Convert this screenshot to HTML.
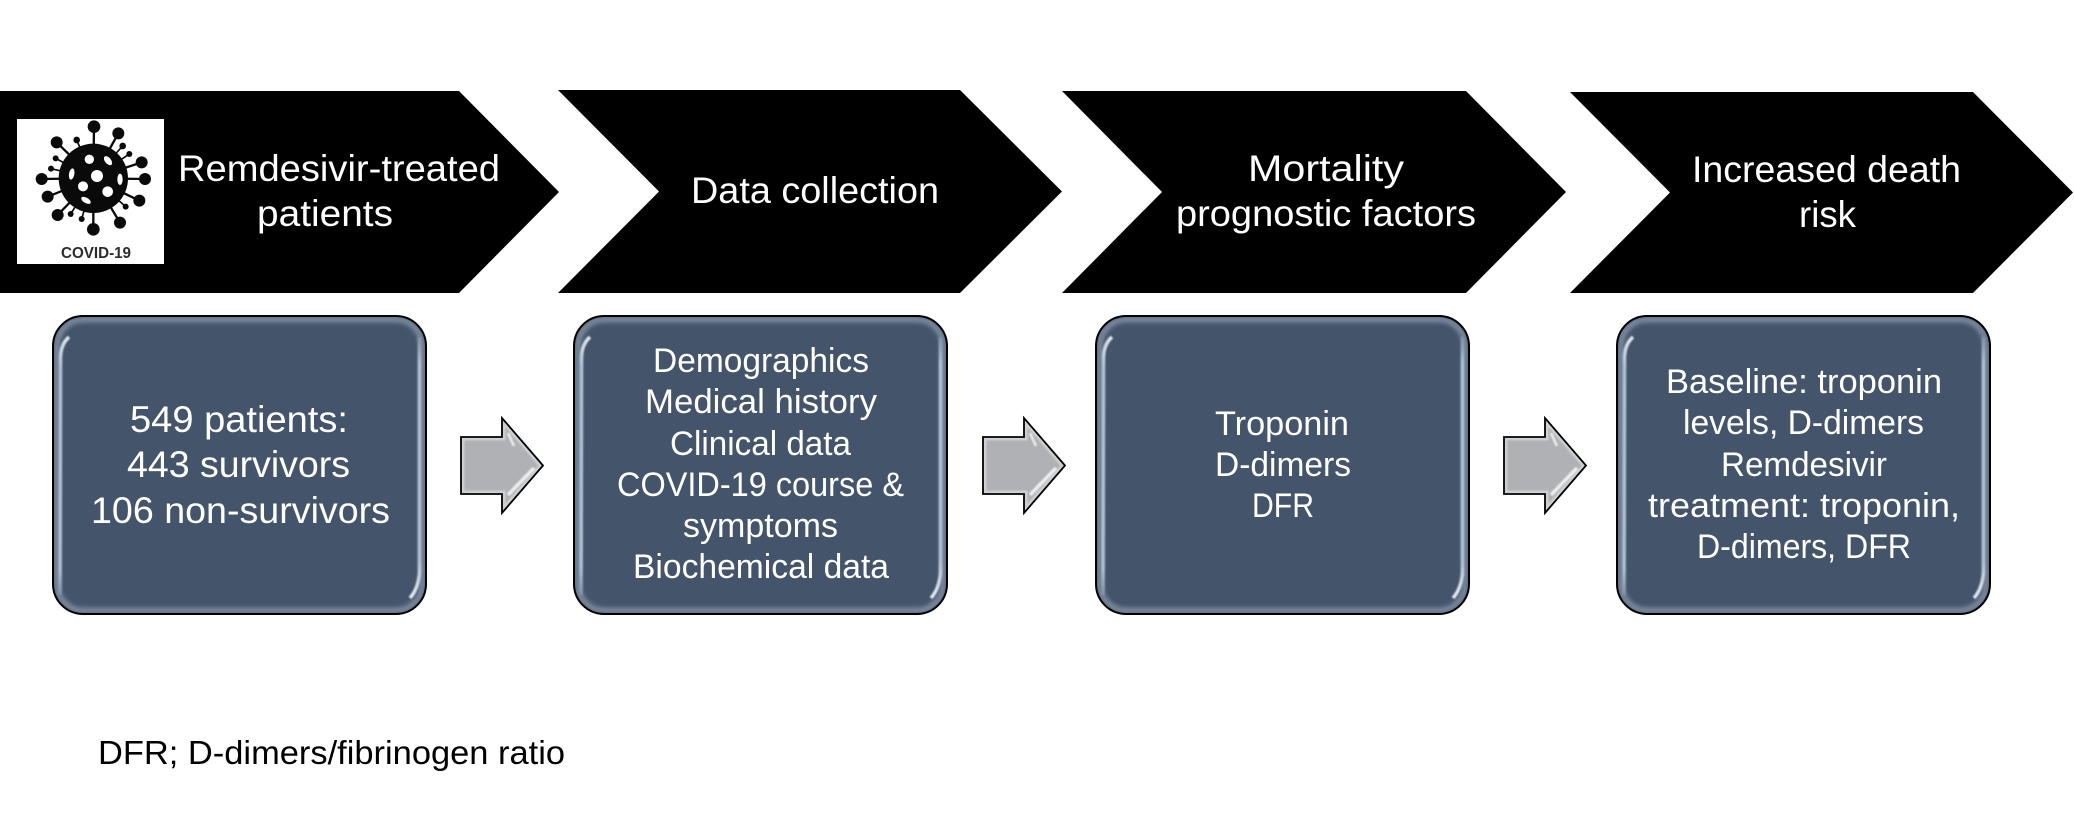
<!DOCTYPE html>
<html lang="en">
<head>
<meta charset="utf-8">
<title>Remdesivir-treated patients flow diagram</title>
<style>
html,body{margin:0;padding:0;background:#fff;width:2074px;height:819px;overflow:hidden}
svg{display:block}
text{font-family:"Liberation Sans",sans-serif}
.w{fill:#fff}
.c{font-size:37px}
.b{font-size:34px}
.b1{font-size:37px}
</style>
</head>
<body>
<svg xmlns="http://www.w3.org/2000/svg" width="2074" height="819" viewBox="0 0 2074 819">
<defs>
<linearGradient id="lg" x1="0" y1="0" x2="0" y2="1">
<stop offset="0" stop-color="#dfe6ef"/><stop offset="0.12" stop-color="#aebfd3"/><stop offset="0.9" stop-color="#aebfd3"/><stop offset="1" stop-color="#7f90a6"/>
</linearGradient>
<linearGradient id="rg" x1="0" y1="0" x2="0" y2="1">
<stop offset="0" stop-color="#7f90a6"/><stop offset="0.1" stop-color="#aebfd3"/><stop offset="0.86" stop-color="#aebfd3"/><stop offset="1" stop-color="#e6ebf2"/>
</linearGradient>
<filter id="bl" x="-10%" y="-10%" width="120%" height="120%"><feGaussianBlur stdDeviation="2"/></filter>
<filter id="bs" x="-30%" y="-10%" width="160%" height="120%"><feGaussianBlur stdDeviation="0.8"/></filter>
<clipPath id="cb"><rect x="1" y="1" width="373" height="298" rx="30" ry="30"/></clipPath>
<clipPath id="ca"><polygon points="0,19 41,19 41,0 82,47.500 41,95 41,76 0,76"/></clipPath>
<g id="box">
<rect x="1" y="1" width="373" height="298" rx="30" ry="30" fill="#44546A"/>
<g clip-path="url(#cb)">
<rect x="5" y="4.500" width="365" height="291" rx="26" ry="26" fill="none" stroke="#7a899d" stroke-width="6" filter="url(#bl)"/>
<path d="M17 22Q9 29 8.500 42L8 280" stroke="url(#lg)" stroke-width="3.500" fill="none" filter="url(#bs)"/>
<path d="M367.500 22L367.500 258Q366 274 358 283" stroke="url(#rg)" stroke-width="3.500" fill="none" filter="url(#bs)"/>
</g>
<rect x="1" y="1" width="373" height="298" rx="30" ry="30" fill="none" stroke="#000" stroke-width="2"/>
</g>
<g id="arrow">
<polygon points="0,19 41,19 41,0 82,47.500 41,95 41,76 0,76" fill="#b0b1b4"/>
<g clip-path="url(#ca)">
<polygon points="0,19 41,19 41,0 82,47.500 41,95 41,76 0,76" fill="none" stroke="#cfd0d2" stroke-width="7" filter="url(#bs)"/>
<path d="M8 29V66" stroke="#fff" stroke-width="3" fill="none" filter="url(#bs)"/>
<path d="M73 50L47 77" stroke="#eeeeef" stroke-width="3.500" fill="none" filter="url(#bs)"/>
<path d="M47 15L53 28" stroke="#eeeeef" stroke-width="2.500" fill="none" filter="url(#bs)"/>
</g>
<polygon points="0,19 41,19 41,0 82,47.500 41,95 41,76 0,76" fill="none" stroke="#000" stroke-width="1.800"/>
</g>
</defs>

<!-- Chevrons -->
<polygon points="0,91 459,91 559,192 459,293 0,293" fill="#000"/>
<polygon points="558,90 960,90 1062,191.500 960,293 558,293 659,191.500" fill="#000"/>
<polygon points="1062,91 1466,91 1566,192 1466,293 1062,293 1162,192" fill="#000"/>
<polygon points="1570,92 1973,92 2073,192.500 1973,293 1570,293 1670,192.500" fill="#000"/>

<!-- COVID image -->
<rect x="17" y="119" width="147" height="145" fill="#fff"/>
<g transform="translate(10,110) scale(0.33333)" fill="#0a0a0a" stroke="none">
<g stroke="#0a0a0a" stroke-width="7" fill="none">
<path d="M250 205L252 50M250 205L325 70M250 205L395 157M250 205L405 207M250 205L388 272M250 205L330 338M250 205L250 358M250 205L143 315M250 205L113 260M250 205L95 207M250 205L140 97"/>
<path d="M250 205L200 90M250 205L338 108M250 205L358 132M250 205L347 290M250 205L215 327M250 205L182 312M250 205L123 176M250 205L137 145" stroke-width="5"/>
</g>
<circle cx="250" cy="205" r="104"/>
<circle cx="252" cy="50" r="19"/><circle cx="325" cy="70" r="18"/><circle cx="395" cy="157" r="18"/><circle cx="405" cy="207" r="18"/><circle cx="388" cy="272" r="18"/><circle cx="330" cy="338" r="18"/><circle cx="250" cy="358" r="19"/><circle cx="143" cy="315" r="18"/><circle cx="113" cy="260" r="18"/><circle cx="95" cy="207" r="18"/><circle cx="140" cy="97" r="18"/>
<circle cx="200" cy="90" r="10"/><circle cx="338" cy="108" r="10"/><circle cx="358" cy="132" r="9"/><circle cx="347" cy="290" r="9"/><circle cx="215" cy="327" r="9"/><circle cx="182" cy="312" r="9"/><circle cx="123" cy="176" r="9"/><circle cx="137" cy="145" r="9"/>
<g fill="#fff">
<circle cx="238" cy="148" r="14"/><ellipse cx="294" cy="152" rx="9" ry="16" transform="rotate(-40 294 152)"/><ellipse cx="185" cy="192" rx="8" ry="17" transform="rotate(10 185 192)"/><circle cx="261" cy="198" r="18"/><ellipse cx="330" cy="208" rx="8" ry="17"/><circle cx="219" cy="229" r="15"/><circle cx="293" cy="245" r="16"/><ellipse cx="228" cy="271" rx="16" ry="8" transform="rotate(30 228 271)"/>
</g>
</g>
<text x="61" y="258" font-size="16" font-weight="700" fill="#2b2b2b" textLength="70" lengthAdjust="spacingAndGlyphs">COVID-19</text>

<!-- Chevron labels -->
<text class="w c" x="178" y="181" textLength="322" lengthAdjust="spacingAndGlyphs">Remdesivir-treated</text>
<text class="w c" x="257" y="226" textLength="136" lengthAdjust="spacingAndGlyphs">patients</text>
<text class="w c" x="691" y="203" textLength="248" lengthAdjust="spacingAndGlyphs">Data collection</text>
<text class="w c" x="1248" y="181" textLength="156" lengthAdjust="spacingAndGlyphs">Mortality</text>
<text class="w c" x="1176" y="226" textLength="300" lengthAdjust="spacingAndGlyphs">prognostic factors</text>
<text class="w c" x="1692" y="182" textLength="269" lengthAdjust="spacingAndGlyphs">Increased death</text>
<text class="w c" x="1799" y="227" textLength="57" lengthAdjust="spacingAndGlyphs">risk</text>

<!-- Boxes -->
<use href="#box" x="52" y="315"/>
<use href="#box" x="573" y="315"/>
<use href="#box" x="1095" y="315"/>
<use href="#box" x="1616" y="315"/>

<!-- Arrows -->
<use href="#arrow" x="461" y="418"/>
<use href="#arrow" x="983" y="418"/>
<use href="#arrow" x="1504" y="418"/>

<!-- Box 1 -->
<text class="w b1" x="130" y="432" textLength="218" lengthAdjust="spacingAndGlyphs">549 patients:</text>
<text class="w b1" x="127" y="477" textLength="223" lengthAdjust="spacingAndGlyphs">443 survivors</text>
<text class="w b1" x="91" y="523" textLength="299" lengthAdjust="spacingAndGlyphs">106 non-survivors</text>

<!-- Box 2 -->
<text class="w b" x="653" y="372" textLength="216" lengthAdjust="spacingAndGlyphs">Demographics</text>
<text class="w b" x="645" y="413" textLength="232" lengthAdjust="spacingAndGlyphs">Medical history</text>
<text class="w b" x="670" y="455" textLength="181" lengthAdjust="spacingAndGlyphs">Clinical data</text>
<text class="w b" x="617" y="496" textLength="287" lengthAdjust="spacingAndGlyphs">COVID-19 course &amp;</text>
<text class="w b" x="683" y="537" textLength="155" lengthAdjust="spacingAndGlyphs">symptoms</text>
<text class="w b" x="633" y="578" textLength="256" lengthAdjust="spacingAndGlyphs">Biochemical data</text>

<!-- Box 3 -->
<text class="w b" x="1215" y="435" textLength="134" lengthAdjust="spacingAndGlyphs">Troponin</text>
<text class="w b" x="1215" y="476" textLength="136" lengthAdjust="spacingAndGlyphs">D-dimers</text>
<text class="w b" x="1252" y="517" textLength="62" lengthAdjust="spacingAndGlyphs">DFR</text>

<!-- Box 4 -->
<text class="w b" x="1666" y="393" textLength="276" lengthAdjust="spacingAndGlyphs">Baseline: troponin</text>
<text class="w b" x="1683" y="434" textLength="241" lengthAdjust="spacingAndGlyphs">levels, D-dimers</text>
<text class="w b" x="1721" y="476" textLength="166" lengthAdjust="spacingAndGlyphs">Remdesivir</text>
<text class="w b" x="1648" y="517" textLength="312" lengthAdjust="spacingAndGlyphs">treatment: troponin,</text>
<text class="w b" x="1697" y="558" textLength="214" lengthAdjust="spacingAndGlyphs">D-dimers, DFR</text>

<!-- Footnote -->
<text x="98" y="764" font-size="33" fill="#000" textLength="467" lengthAdjust="spacingAndGlyphs">DFR; D-dimers/fibrinogen ratio</text>
</svg>
</body>
</html>
